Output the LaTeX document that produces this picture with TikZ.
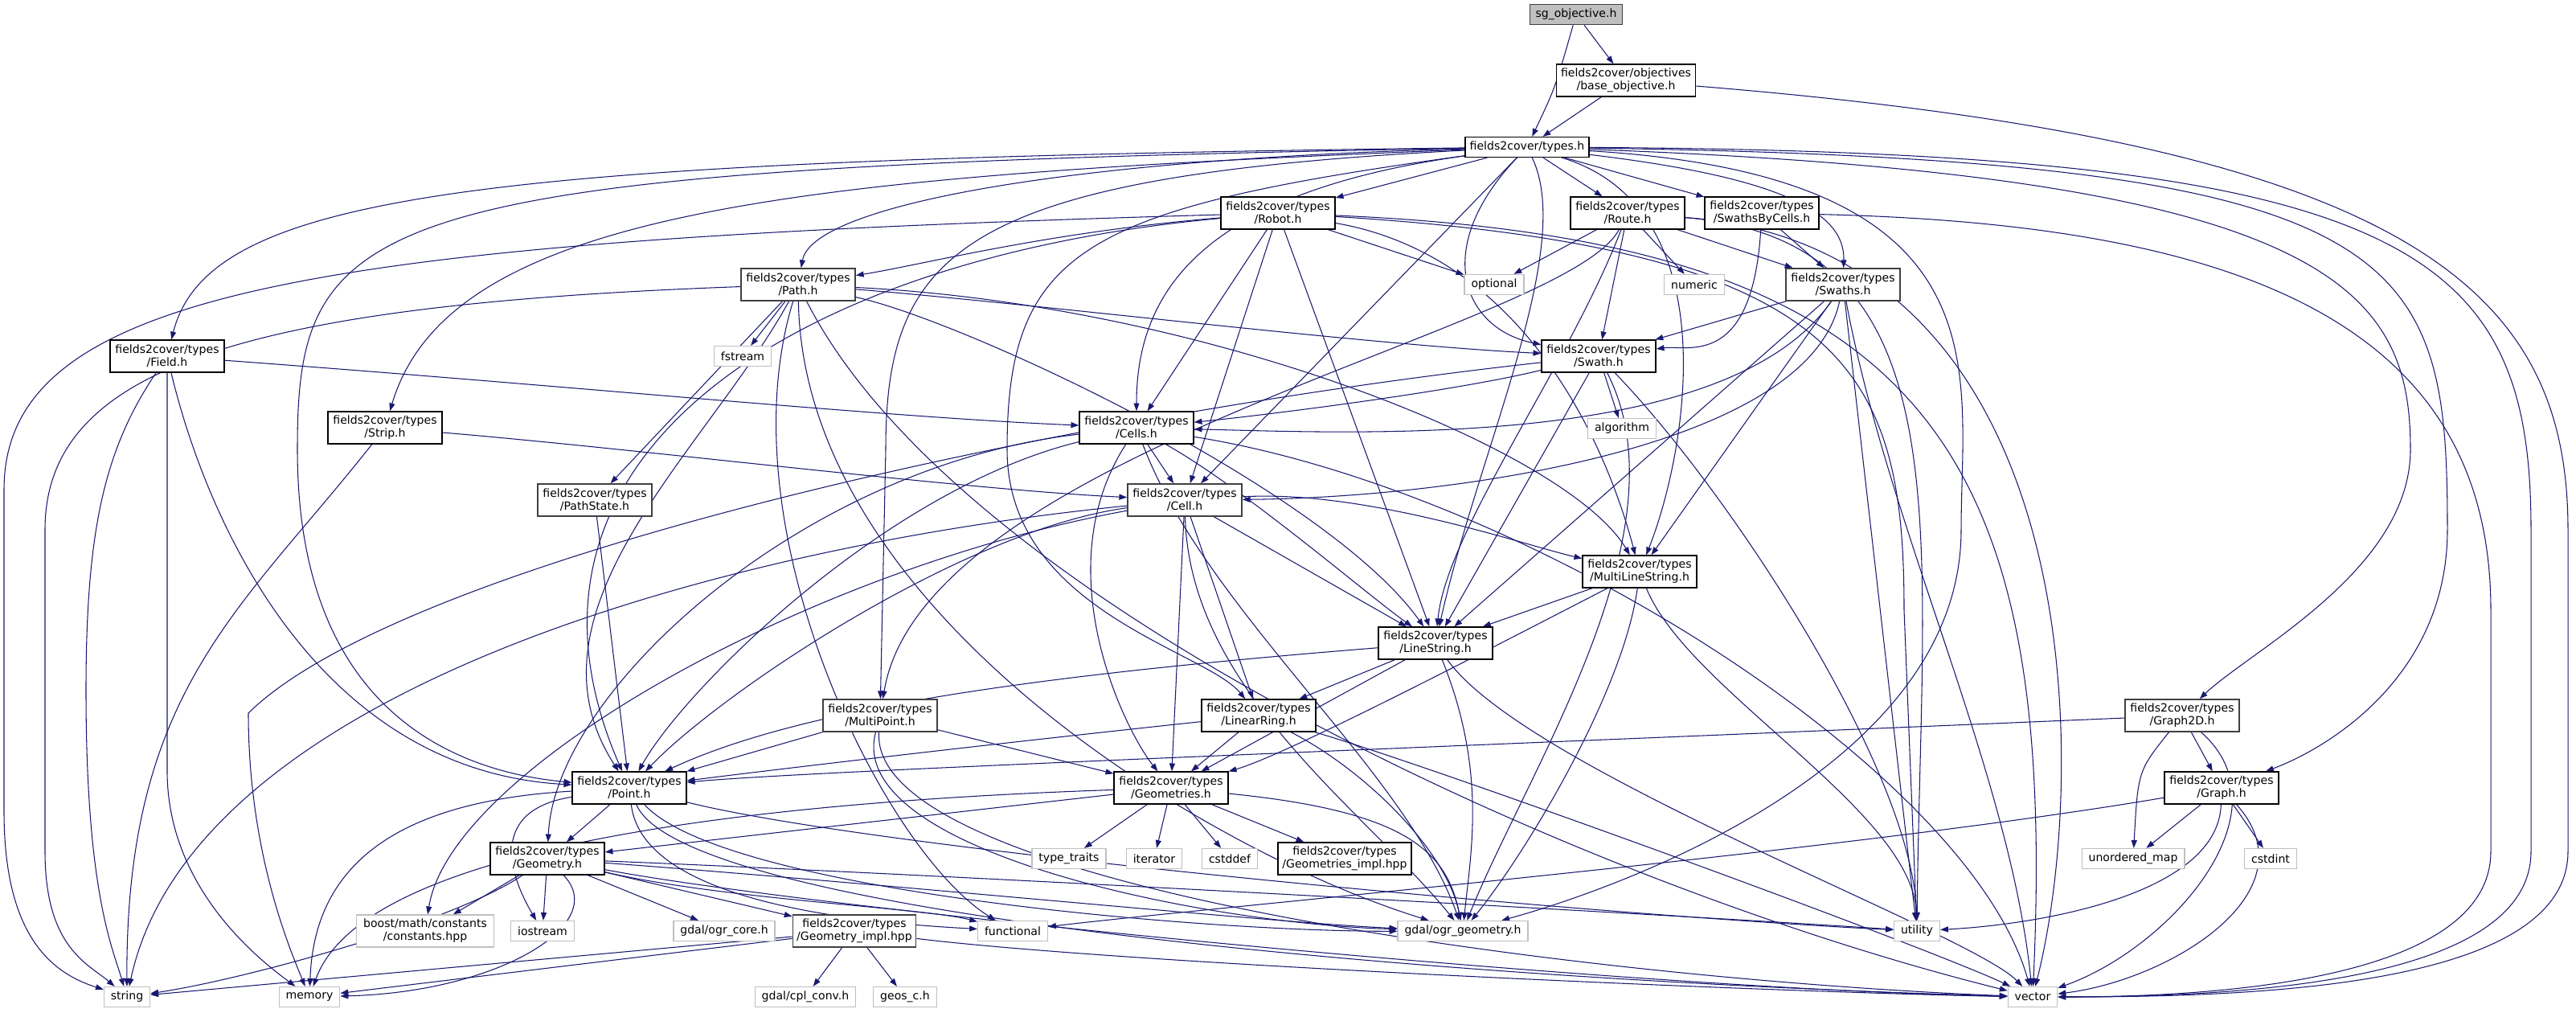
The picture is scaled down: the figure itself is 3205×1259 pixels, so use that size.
\documentclass[tikz,border=0pt]{standalone}
\usepackage{fontspec}
\setmainfont{DejaVu Sans}
\usepackage{tikz}
\usetikzlibrary{arrows.meta,backgrounds}
\definecolor{edgeblue}{RGB}{25,25,112}
\definecolor{sysgray}{RGB}{191,191,191}
\definecolor{darkgray}{RGB}{64,64,64}

\tikzset{
  hdr/.style={draw=black, line width=0.9pt, fill=white, align=center, inner sep=2pt,
    minimum width=3.55cm, minimum height=1cm, font=\fontsize{10}{11.5}\selectfont},
  hdrgray/.style={hdr, draw=darkgray, line width=1.1pt},
  syshdr/.style={draw=sysgray, line width=0.9pt, fill=white, align=center, inner xsep=6pt,
    inner ysep=2pt, minimum height=0.625cm, font=\fontsize{10}{11.5}\selectfont},
  curhdr/.style={hdr, fill=sysgray, draw=darkgray, line width=1.1pt, minimum width=2.875cm, minimum height=0.625cm},
  inc/.style={draw=edgeblue, line width=0.75pt, -{Triangle[length=7pt,width=5pt]}}
}

\begin{document}
\begin{tikzpicture}[x=0.025cm, y=0.025cm]
\useasboundingbox (0,0) rectangle (3205,1259);

% headers of the project
\node[curhdr] (sgobj) at (1961,1241) {sg\_objective.h};
\node[hdr, minimum width=4.33cm] (baseobj) at (2023,1159) {fields2cover/objectives\\/base\_objective.h};
\node[hdr, minimum width=3.85cm, minimum height=0.625cm] (types) at (1900,1076) {fields2cover/types.h};
\node[hdr] (robot) at (1590,994) {fields2cover/types\\/Robot.h};
\node[hdr] (route) at (2025,994) {fields2cover/types\\/Route.h};
\node[hdr] (swbycells) at (2192,994) {fields2cover/types\\/SwathsByCells.h};
\node[hdrgray] (swaths) at (2293,905) {fields2cover/types\\/Swaths.h};
\node[hdrgray] (path) at (993,905) {fields2cover/types\\/Path.h};
\node[hdr] (field) at (208,816) {fields2cover/types\\/Field.h};
\node[hdr] (swath) at (1989,816) {fields2cover/types\\/Swath.h};
\node[hdr] (strip) at (479,727) {fields2cover/types\\/Strip.h};
\node[hdr] (cells) at (1414,727) {fields2cover/types\\/Cells.h};
\node[hdrgray] (pathstate) at (740,637) {fields2cover/types\\/PathState.h};
\node[hdrgray] (cell) at (1474,637) {fields2cover/types\\/Cell.h};
\node[hdr] (mls) at (2040,548) {fields2cover/types\\/MultiLineString.h};
\node[hdr] (linestring) at (1786,459) {fields2cover/types\\/LineString.h};
\node[hdr] (linearring) at (1566,369) {fields2cover/types\\/LinearRing.h};
\node[hdrgray] (multipoint) at (1095,369) {fields2cover/types\\/MultiPoint.h};
\node[hdrgray] (graph2d) at (2715,369) {fields2cover/types\\/Graph2D.h};
\node[hdr] (point) at (783,279) {fields2cover/types\\/Point.h};
\node[hdr] (geometries) at (1457,279) {fields2cover/types\\/Geometries.h};
\node[hdr] (graph) at (2764,279) {fields2cover/types\\/Graph.h};
\node[hdr] (geometry) at (681,191) {fields2cover/types\\/Geometry.h};
\node[hdr, minimum width=4.15cm] (geomsimpl) at (1673,191) {fields2cover/types\\/Geometries\_impl.hpp};
\node[hdrgray, minimum width=3.83cm] (geomimpl) at (1063,101) {fields2cover/types\\/Geometry\_impl.hpp};

% system headers
\node[syshdr] (optional) at (1859,905) {optional};
\node[syshdr] (numeric) at (2108,905) {numeric};
\node[syshdr] (fstream) at (924,816) {fstream};
\node[syshdr] (algorithm) at (2018,726) {algorithm};
\node[syshdr] (typetraits) at (1330,191) {type\_traits};
\node[syshdr] (iterator) at (1436,191) {iterator};
\node[syshdr] (cstddef) at (1530,191) {cstddef};
\node[syshdr] (unorderedmap) at (2654,191) {unordered\_map};
\node[syshdr] (cstdint) at (2825,191) {cstdint};
\node[syshdr, minimum width=4.05cm, minimum height=1cm] (boostconst) at (529,101) {boost/math/constants\\/constants.hpp};
\node[syshdr] (iostream) at (675,101) {iostream};
\node[syshdr] (ogrcore) at (901,101) {gdal/ogr\_core.h};
\node[syshdr] (functional) at (1260,101) {functional};
\node[syshdr] (ogrgeom) at (1820,101) {gdal/ogr\_geometry.h};
\node[syshdr] (utility) at (2385,101) {utility};
\node[syshdr] (string) at (158,19) {string};
\node[syshdr] (memory) at (385,19) {memory};
\node[syshdr] (cplconv) at (1002,19) {gdal/cpl\_conv.h};
\node[syshdr] (geosc) at (1126,19) {geos\_c.h};
\node[syshdr] (vector) at (2529,19) {vector};

\begin{pgfonlayer}{background}
% sg_objective.h and base_objective.h
\draw[inc] (sgobj) -- (baseobj);
\draw[inc] (sgobj) .. controls (1935,1150) .. (types);
\draw[inc] (baseobj) -- (types);
\draw[inc] (baseobj) .. controls (3000,1080) and (3195,900) .. (3195,600) -- (3195,200) .. controls (3195,30) and (2800,19) .. (vector);

% types.h
\draw[inc] (types) -- (robot);
\draw[inc] (types) -- (route);
\draw[inc] (types) -- (swbycells);
\draw[inc] (types) .. controls (2200,1040) and (2296,1000) .. (swaths);
\draw[inc] (types) .. controls (1780,950) and (1820,850) .. (swath);
\draw[inc] (types) .. controls (1500,1020) and (1414,900) .. (cells);
\draw[inc] (types) -- (cell);
\draw[inc] (types) .. controls (1300,1060) and (1010,1000) .. (path);
\draw[inc] (types) .. controls (600,1060) and (260,1020) .. (field);
\draw[inc] (types) .. controls (1000,1040) and (560,1000) .. (strip);
\draw[inc] (types) .. controls (450,1050) and (370,1000) .. (370,700) .. controls (370,380) and (560,300) .. (point);
\draw[inc] (types) .. controls (1200,1040) and (1102,950) .. (1102,700) -- (multipoint);
\draw[inc] (types) .. controls (1350,1000) and (1253,950) .. (1253,700) .. controls (1253,500) and (1500,450) .. (linearring);
\draw[inc] (types) .. controls (1960,950) and (1840,700) .. (linestring);
\draw[inc] (types) .. controls (2150,1000) and (2100,700) .. (mls);
\draw[inc] (types) .. controls (2900,1040) and (2999,900) .. (2999,700) .. controls (2999,550) and (2800,450) .. (graph2d);
\draw[inc] (types) .. controls (3000,1060) and (3045,950) .. (3045,600) .. controls (3045,420) and (2900,330) .. (graph);
\draw[inc] (types) .. controls (2500,1040) and (2440,800) .. (2440,600) .. controls (2440,300) and (2000,150) .. (ogrgeom);
\draw[inc] (types) .. controls (3000,1070) and (3149,950) .. (3149,600) -- (3149,200) .. controls (3149,40) and (2800,19) .. (vector);

% Robot.h
\draw[inc] (robot) .. controls (1300,970) and (1150,930) .. (path);
\draw[inc] (robot) -- (optional);
\draw[inc] (robot) -- (cells);
\draw[inc] (robot) -- (cell);
\draw[inc] (robot) .. controls (1000,940) and (600,700) .. (point);
\draw[inc] (robot) .. controls (400,960) and (5,900) .. (5,650) -- (5,250) .. controls (5,100) and (60,50) .. (string);
\draw[inc] (robot) -- (linestring);
\draw[inc] (robot) .. controls (1900,940) and (2000,700) .. (mls);
\draw[inc] (robot) .. controls (2300,950) and (2369,800) .. (2369,500) -- (utility);
\draw[inc] (robot) .. controls (2400,960) and (2560,700) .. (vector);

% Route.h
\draw[inc] (route) -- (optional);
\draw[inc] (route) -- (numeric);
\draw[inc] (route) -- (swaths);
\draw[inc] (route) -- (swath);
\draw[inc] (route) .. controls (1950,850) and (1150,700) .. (multipoint);
\draw[inc] (route) .. controls (1950,800) and (1800,600) .. (linestring);
\draw[inc] (route) .. controls (2450,960) and (2390,600) .. (utility);
\draw[inc] (route) .. controls (2600,950) and (2600,300) .. (vector);

% SwathsByCells.h
\draw[inc] (swbycells) -- (swaths);
\draw[inc] (swbycells) .. controls (2180,800) and (2100,830) .. (swath);
\draw[inc] (swbycells) .. controls (2800,980) and (3099,850) .. (3099,500) -- (3099,200) .. controls (3099,50) and (2800,19) .. (vector);

% Swaths.h
\draw[inc] (swaths) -- (swath);
\draw[inc] (swaths) .. controls (2150,700) and (1700,720) .. (cells);
\draw[inc] (swaths) .. controls (2250,700) and (1800,640) .. (cell);
\draw[inc] (swaths) -- (linestring);
\draw[inc] (swaths) -- (mls);
\draw[inc] (swaths) -- (utility);
\draw[inc] (swaths) .. controls (2350,600) and (2500,300) .. (vector);

% Swath.h
\draw[inc] (swath) .. controls (1800,770) and (1550,740) .. (cells);
\draw[inc] (swath) -- (linestring);
\draw[inc] (swath) -- (algorithm);
\draw[inc] (swath) .. controls (2100,600) and (1900,300) .. (ogrgeom);
\draw[inc] (swath) .. controls (2150,650) and (2380,300) .. (utility);
\draw[inc] (swath) .. controls (1300,740) and (500,560) .. (309,372) .. controls (309,200) and (360,80) .. (memory);

% Path.h
\draw[inc] (path) .. controls (1300,880) and (1700,830) .. (swath);
\draw[inc] (path) .. controls (880,700) and (640,500) .. (point);
\draw[inc] (path) -- (pathstate);
\draw[inc] (path) -- (fstream);
\draw[inc] (path) .. controls (300,880) and (56,800) .. (56,600) -- (56,200) .. controls (56,80) and (110,60) .. (string);
\draw[inc] (path) .. controls (1200,860) and (1650,650) .. (linestring);
\draw[inc] (path) .. controls (1500,880) and (1950,700) .. (mls);
\draw[inc] (path) .. controls (900,600) and (1100,200) .. (functional);
\draw[inc] (path) .. controls (1000,500) and (1500,200) .. (ogrgeom);
\draw[inc] (path) .. controls (1200,500) and (2000,150) .. (vector);

% Field.h and Strip.h
\draw[inc] (field) .. controls (700,780) and (1100,740) .. (cells);
\draw[inc] (field) .. controls (260,600) and (400,300) .. (point);
\draw[inc] (field) .. controls (130,700) and (107,600) .. (107,400) .. controls (107,150) and (140,80) .. (string);
\draw[inc] (field) -- (208,300) .. controls (208,150) and (330,60) .. (memory);
\draw[inc] (strip) .. controls (800,700) and (1200,650) .. (cell);
\draw[inc] (strip) .. controls (300,500) and (156,400) .. (string);
\draw[inc] (pathstate) -- (point);

% Cells.h
\draw[inc] (cells) -- (cell);
\draw[inc] (cells) .. controls (1100,650) and (850,400) .. (point);
\draw[inc] (cells) .. controls (1550,650) and (1700,520) .. (linestring);
\draw[inc] (cells) .. controls (1300,550) and (1400,350) .. (geometries);
\draw[inc] (cells) .. controls (1000,680) and (690,400) .. (geometry);
\draw[inc] (cells) .. controls (1500,500) and (1750,300) .. (ogrgeom);
\draw[inc] (cells) .. controls (1900,650) and (2450,300) .. (vector);

% Cell.h
\draw[inc] (cell) .. controls (1700,650) and (1900,580) .. (mls);
\draw[inc] (cell) -- (linestring);
\draw[inc] (cell) -- (linearring);
\draw[inc] (cell) -- (geometries);
\draw[inc] (cell) .. controls (1200,600) and (900,400) .. (point);
\draw[inc] (cell) .. controls (1480,400) and (1700,250) .. (ogrgeom);
\draw[inc] (cell) .. controls (900,580) and (240,400) .. (string);
\draw[inc] (cell) .. controls (1000,550) and (560,300) .. (boostconst);

% MultiLineString.h, LineString.h, LinearRing.h
\draw[inc] (mls) -- (linestring);
\draw[inc] (mls) .. controls (1850,450) and (1600,320) .. (geometries);
\draw[inc] (mls) .. controls (2020,400) and (1900,200) .. (ogrgeom);
\draw[inc] (mls) .. controls (2100,400) and (2380,250) .. (utility);
\draw[inc] (linestring) .. controls (1300,420) and (1000,380) .. (point);
\draw[inc] (linestring) -- (linearring);
\draw[inc] (linestring) -- (geometries);
\draw[inc] (linestring) .. controls (1850,300) and (1830,200) .. (ogrgeom);
\draw[inc] (linestring) .. controls (1900,300) and (2450,100) .. (vector);
\draw[inc] (linearring) .. controls (1200,330) and (950,300) .. (point);
\draw[inc] (linearring) -- (geometries);
\draw[inc] (linearring) .. controls (1700,300) and (1800,200) .. (ogrgeom);
\draw[inc] (linearring) .. controls (1800,300) and (2400,80) .. (vector);

% MultiPoint.h
\draw[inc] (multipoint) -- (point);
\draw[inc] (multipoint) -- (geometries);
\draw[inc] (multipoint) .. controls (1050,200) and (1500,110) .. (ogrgeom);
\draw[inc] (multipoint) .. controls (1080,150) and (2000,40) .. (vector);

% Graph2D.h and Graph.h
\draw[inc] (graph2d) .. controls (1800,330) and (1000,300) .. (point);
\draw[inc] (graph2d) -- (graph);
\draw[inc] (graph2d) .. controls (2660,300) .. (unorderedmap);
\draw[inc] (graph2d) .. controls (2850,250) and (2700,80) .. (vector);
\draw[inc] (graph) -- (unorderedmap);
\draw[inc] (graph) -- (cstdint);
\draw[inc] (graph) .. controls (2760,150) and (2550,110) .. (utility);
\draw[inc] (graph) .. controls (2880,150) and (2700,40) .. (vector);
\draw[inc] (graph) .. controls (2300,200) and (1500,130) .. (functional);

% Point.h
\draw[inc] (point) -- (geometry);
\draw[inc] (point) .. controls (450,260) and (390,150) .. (memory);
\draw[inc] (point) .. controls (600,250) and (640,160) .. (iostream);
\draw[inc] (point) .. controls (800,130) and (1100,110) .. (functional);
\draw[inc] (point) .. controls (900,150) and (1500,100) .. (ogrgeom);
\draw[inc] (point) .. controls (1100,200) and (2000,120) .. (utility);
\draw[inc] (point) .. controls (850,120) and (1800,40) .. (vector);

% Geometries.h
\draw[inc] (geometries) -- (geometry);
\draw[inc] (geometries) -- (typetraits);
\draw[inc] (geometries) -- (iterator);
\draw[inc] (geometries) -- (cstddef);
\draw[inc] (geometries) -- (geomsimpl);
\draw[inc] (geometries) .. controls (1750,250) and (1800,200) .. (ogrgeom);
\draw[inc] (geometries) .. controls (900,260) and (450,200) .. (memory);

% Geometry.h
\draw[inc] (geometry) -- (boostconst);
\draw[inc] (geometry) -- (iostream);
\draw[inc] (geometry) -- (ogrcore);
\draw[inc] (geometry) -- (geomimpl);
\draw[inc] (geometry) .. controls (760,110) and (620,25) .. (memory);
\draw[inc] (geometry) .. controls (560,110) and (300,40) .. (string);
\draw[inc] (geometry) .. controls (900,140) and (1150,130) .. (functional);
\draw[inc] (geometry) .. controls (1100,160) and (1600,110) .. (ogrgeom);
\draw[inc] (geometry) .. controls (1200,170) and (2100,120) .. (utility);
\draw[inc] (geometry) .. controls (1000,130) and (2000,30) .. (vector);

% Geometry_impl.hpp
\draw[inc] (geomimpl) -- (cplconv);
\draw[inc] (geomimpl) -- (geosc);
\draw[inc] (geomimpl) -- (string);
\draw[inc] (geomimpl) -- (memory);
\draw[inc] (geomimpl) .. controls (1400,60) and (2200,25) .. (vector);
\end{pgfonlayer}
\end{tikzpicture}
\end{document}
